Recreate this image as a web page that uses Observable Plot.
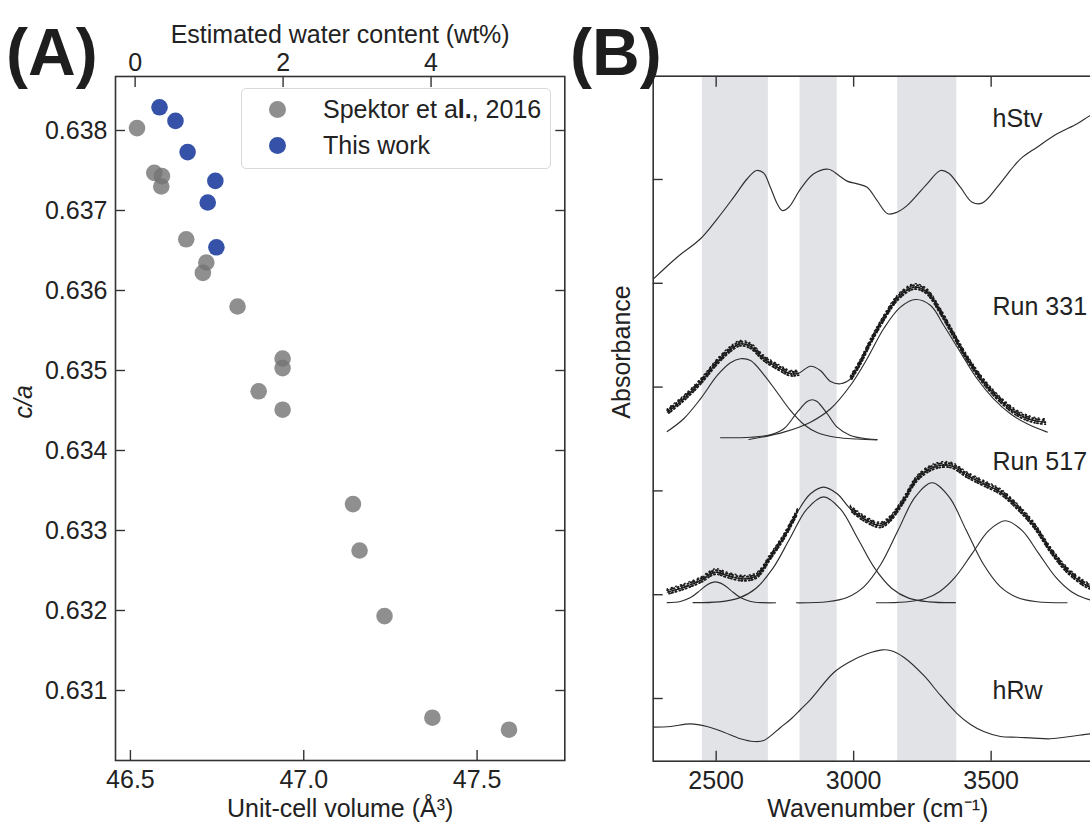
<!DOCTYPE html>
<html>
<head>
<meta charset="utf-8">
<script src="https://cdn.jsdelivr.net/npm/d3@7"></script>
<script src="https://cdn.jsdelivr.net/npm/@observablehq/plot@0.6"></script>
<style>
  html, body { margin: 0; padding: 0; background: #fff; width: 1090px; height: 830px; overflow: hidden; }
  #wrap { position: relative; width: 1090px; height: 830px; overflow: hidden;
          font-family: "Liberation Sans", Arial, Helvetica, sans-serif; color: #222; }
  #panelA, #panelB { position: absolute; top: 0; }
  #panelA { left: 0; width: 580px; height: 830px; }
  #panelB { left: 560px; width: 552px; height: 830px; }
  #panelA svg, #panelB svg { max-width: none !important; display: block; }
  .tag { position: absolute; font-weight: bold; font-size: 66px; line-height: 66px; color: #1e1e1e; }
  #legend { position: absolute; left: 241px; top: 88px; width: 308px; height: 79px;
            border: 1px solid #d9d9d9; border-radius: 5px; background: #fff; font-size: 25px; }
  #legend .mk { position: absolute; width: 17px; height: 17px; border-radius: 50%; }
  #legend .lb { position: absolute; left: 81px; height: 30px; line-height: 30px; white-space: nowrap; color: #222; }
</style>
</head>
<body>
<div id="wrap">
  <div id="panelA"></div>
  <div id="panelB"></div>
  <div class="tag" style="left:6px; top:19px;">(A)</div>
  <div class="tag" style="left:570px; top:19px;">(B)</div>
  <div id="legend"></div>
</div>
<script>
// ---------------- Panel A data ----------------
const spektorVol = [46.519, 46.569, 46.591, 46.589, 46.661, 46.719, 46.709, 46.809, 46.939, 46.939, 46.870, 46.939, 47.142, 47.161, 47.233, 47.371, 47.592];
const spektorCa  = [0.63803, 0.63747, 0.63743, 0.63730, 0.63664, 0.63635, 0.63622, 0.63580, 0.63515, 0.63503, 0.63474, 0.63451, 0.63333, 0.63275, 0.63193, 0.63066, 0.63051];
const thisVol = [46.584, 46.630, 46.665, 46.745, 46.723, 46.748];
const thisCa  = [0.63829, 0.63812, 0.63773, 0.63737, 0.63710, 0.63654];
const seriesNames = ["Spektor et al., 2016", "This work"];
const volTicks = [46.5, 47.0, 47.5];
const caTicks = [0.631, 0.632, 0.633, 0.634, 0.635, 0.636, 0.637, 0.638];
const waterTicks = [0, 2, 4];
// calibration of top axis: unit-cell volume at 0 wt% and volume increase per wt%
const waterZeroVol = 46.5136;
const volPerWt = 0.2134;

// ---------------- Panel B data (wavenumber cm^-1, offset absorbance) ----------------
const wnTicks = [2500, 3000, 3500];
const absTicks = [0, 1, 2, 3, 4, 5];
const bands = [[2450, 2690], [2805, 2940], [3160, 3375]];

const hStv = [[2271,4.040],[2358,4.251],[2443,4.429],[2504,4.621],[2564,4.830],[2613,5.007],[2647,5.087],[2673,5.061],[2697,4.926],[2722,4.766],[2740,4.701],[2764,4.733],[2807,4.910],[2855,5.055],[2909,5.099],[2946,5.039],[2976,4.984],[3013,4.958],[3049,4.926],[3085,4.798],[3124,4.670],[3158,4.685],[3195,4.750],[3267,4.958],[3316,5.087],[3346,5.061],[3388,4.926],[3431,4.781],[3467,4.772],[3522,4.926],[3570,5.087],[3607,5.199],[3667,5.311],[3740,5.440],[3813,5.537],[3861,5.617],[3905,5.670]];

const run331Fit = [[2322,2.758],[2382,2.887],[2443,3.047],[2504,3.240],[2552,3.362],[2588,3.417],[2625,3.391],[2673,3.273],[2722,3.192],[2770,3.128],[2800,3.134],[2843,3.201],[2879,3.160],[2916,3.054],[2952,3.032],[2989,3.080],[3025,3.240],[3061,3.433],[3109,3.658],[3158,3.851],[3207,3.953],[3231,3.962],[3267,3.914],[3316,3.722],[3364,3.497],[3413,3.273],[3473,3.047],[3534,2.871],[3595,2.743],[3655,2.678],[3697,2.662]];
const run331Measured = [[2322, 2800], [2989, 3697]];
const run331G1 = [[2322,2.572],[2382,2.695],[2443,2.887],[2504,3.112],[2552,3.234],[2588,3.273],[2625,3.256],[2673,3.121],[2722,2.948],[2770,2.775],[2819,2.640],[2867,2.563],[2940,2.514],[3013,2.500],[3085,2.492]];
const run331G2 = [[2516,2.512],[2625,2.517],[2697,2.540],[2746,2.598],[2795,2.758],[2831,2.861],[2849,2.878],[2867,2.861],[2904,2.743],[2940,2.614],[2988,2.534],[3049,2.502],[3085,2.495]];
const run331G3 = [[2619,2.495],[2746,2.566],[2843,2.662],[2916,2.791],[2988,3.015],[3049,3.273],[3109,3.562],[3170,3.770],[3225,3.844],[3280,3.786],[3328,3.593],[3388,3.336],[3449,3.080],[3509,2.887],[3570,2.743],[3631,2.646],[3704,2.566]];

const run517Fit = [[2322,1.024],[2382,1.072],[2443,1.137],[2497,1.217],[2540,1.185],[2600,1.153],[2649,1.185],[2697,1.361],[2746,1.554],[2795,1.795],[2843,1.972],[2891,2.036],[2940,1.972],[2988,1.828],[3037,1.731],[3097,1.667],[3134,1.731],[3182,1.908],[3231,2.117],[3291,2.228],[3352,2.245],[3413,2.148],[3473,2.068],[3534,1.987],[3595,1.843],[3655,1.667],[3716,1.426],[3776,1.233],[3837,1.105],[3861,1.072],[3905,1.020]];
const run517Measured = [[2322, 2795], [2988, 3905]];
const run517G1 = [[2322,0.923],[2370,0.935],[2407,0.972],[2443,1.044],[2468,1.097],[2497,1.124],[2527,1.097],[2552,1.044],[2588,0.972],[2625,0.935],[2668,0.923],[2716,0.922]];
const run517G2 = [[2416,0.923],[2509,0.931],[2582,0.967],[2644,1.060],[2706,1.253],[2768,1.541],[2829,1.823],[2891,1.943],[2953,1.823],[3015,1.541],[3077,1.253],[3139,1.060],[3200,0.967],[3273,0.931],[3370,0.923]];
const run517G3 = [[2792,0.922],[2904,0.932],[2976,0.973],[3038,1.078],[3100,1.298],[3162,1.623],[3224,1.942],[3285,2.078],[3347,1.942],[3409,1.623],[3471,1.298],[3533,1.078],[3595,0.973],[3667,0.932],[3776,0.922]];
const run517G4 = [[3083,0.922],[3188,0.930],[3261,0.963],[3312,1.029],[3370,1.172],[3432,1.401],[3492,1.619],[3552,1.712],[3612,1.619],[3672,1.401],[3734,1.172],[3792,1.029],[3843,0.963],[3905,0.929]];

const hRw = [[2271,-0.276],[2334,-0.270],[2407,-0.244],[2467,-0.270],[2528,-0.325],[2588,-0.388],[2637,-0.414],[2673,-0.405],[2734,-0.279],[2770,-0.202],[2807,-0.106],[2843,-0.010],[2928,0.250],[2988,0.356],[3049,0.431],[3104,0.469],[3134,0.462],[3182,0.398],[3255,0.222],[3316,0.029],[3376,-0.145],[3425,-0.250],[3473,-0.318],[3534,-0.366],[3595,-0.373],[3655,-0.382],[3716,-0.388],[3788,-0.366],[3861,-0.340],[3905,-0.332]];

const specNames = ["hStv", "Run 331", "Run 517", "hRw"];
const specLabelWn = [3505, 3505, 3505, 3505];
const specLabelAbs = [5.585, 3.770, 2.277, 0.070];

// ---------------- build ----------------
const FONT = '"Liberation Sans", Arial, Helvetica, sans-serif';
const INK = "#2e2e2e";
const GRAY = "#737373";
const BLUE = "#3552a8";

const spektor = spektorVol.map((v, i) => ({v, ca: spektorCa[i]}));
const thisWork = thisVol.map((v, i) => ({v, ca: thisCa[i]}));
const w2v = w => waterZeroVol + w * volPerWt;
const v2w = v => Math.round((v - waterZeroVol) / volPerWt);

const plotA = Plot.plot({
  width: 580, height: 830,
  marginLeft: 115, marginRight: 15.7, marginTop: 76, marginBottom: 70,
  x: {domain: [46.457, 47.753]},
  y: {domain: [0.630125, 0.638675]},
  style: {fontFamily: FONT, fontSize: "25px", color: "#222", background: "transparent", overflow: "visible"},
  marks: [
    Plot.dot(spektor, {x: "v", y: "ca", r: 8.3, fill: GRAY, fillOpacity: 0.8}),
    Plot.dot(thisWork, {x: "v", y: "ca", r: 8.3, fill: BLUE}),
    Plot.frame({stroke: "#333", strokeWidth: 1.6}),
    Plot.axisX({anchor: "bottom", ticks: volTicks, tickFormat: d3.format(".1f"), tickSize: 0, tickPadding: 10, label: null}),
    Plot.axisX({anchor: "bottom", ticks: volTicks, tickSize: 10, dy: -10, fill: "none", stroke: "#333", strokeWidth: 1.4, label: null}),
    Plot.axisX({anchor: "top", ticks: waterTicks.map(w2v), tickFormat: v => String(v2w(v)), tickSize: 0, tickPadding: 6, label: null}),
    Plot.axisX({anchor: "top", ticks: waterTicks.map(w2v), tickSize: 10, dy: 10, fill: "none", stroke: "#333", strokeWidth: 1.4, label: null}),
    Plot.axisY({anchor: "left", ticks: caTicks, tickFormat: d3.format(".3f"), tickSize: 0, tickPadding: 8, label: null}),
    Plot.axisY({anchor: "left", ticks: caTicks, tickSize: 10, dx: 10, fill: "none", stroke: "#333", strokeWidth: 1.4, label: null}),
    Plot.axisY({anchor: "right", ticks: caTicks, tickSize: 10, dx: -10, fill: "none", stroke: "#333", strokeWidth: 1.4, label: null}),
    Plot.text(["Unit-cell volume (Å³)"], {frameAnchor: "bottom", dy: 56, fill: "#222"}),
    Plot.text(["Estimated water content (wt%)"], {frameAnchor: "top", dy: -51, fill: "#222"}),
    Plot.text(["c/a"], {frameAnchor: "left", dx: -92, rotate: -90, fontStyle: "italic", fill: "#222"})
  ]
});
document.getElementById("panelA").appendChild(plotA);

// legend
const legend = document.getElementById("legend");
[[GRAY, 0.8, seriesNames[0]], [BLUE, 1, seriesNames[1]]].forEach(([c, o, name], i) => {
  const cy = 20 + i * 36;
  const mk = document.createElement("div");
  mk.className = "mk";
  mk.style.left = (35 - 8.5) + "px";
  mk.style.top = (cy - 8.5) + "px";
  mk.style.background = c;
  mk.style.opacity = o;
  legend.appendChild(mk);
  const lb = document.createElement("div");
  lb.className = "lb";
  lb.style.top = (cy - 15) + "px";
  if (i === 0) lb.innerHTML = "Spektor et a<b>l.</b>, 2016"; else lb.textContent = name;
  legend.appendChild(lb);
});

const P = arr => arr.map(([wn, a]) => ({wn, a}));
const inRanges = (arr, ranges) => ranges.map(([lo, hi]) => P(arr.filter(([wn]) => wn >= lo && wn <= hi)));
const thin = {x: "wn", y: "a", curve: "catmull-rom", stroke: INK, strokeWidth: 1.15, clip: true};
// speckled rendering of the measured points (irregular dash patterns, slightly offset)
const speckles = [
  {strokeWidth: 1.9, strokeDasharray: "1.2,2.4,0.8,1.6,1.5,3.1", strokeDashoffset: 0, dy: -2.0},
  {strokeWidth: 1.9, strokeDasharray: "0.9,1.8,1.4,2.7,0.7,2.2", strokeDashoffset: 1.3, dy: 0},
  {strokeWidth: 1.9, strokeDasharray: "1.3,2.9,0.9,1.9,1.1,2.5", strokeDashoffset: 2.1, dy: 2.0},
  {strokeWidth: 1.4, strokeDasharray: "0.8,4.1,1.0,3.3", strokeDashoffset: 0.5, dy: -3.4}
];

const lineMarks = [hStv, run331Fit, run331G1, run331G2, run331G3, run517Fit, run517G1, run517G2, run517G3, run517G4, hRw]
  .map(s => Plot.line(P(s), thin));
const segs = [...inRanges(run331Fit, run331Measured), ...inRanges(run517Fit, run517Measured)];
const dotMarks = segs.flatMap(seg => speckles.map(sp => Plot.line(seg, {x: "wn", y: "a", curve: "catmull-rom", stroke: "#1a1a1a", clip: true, ...sp})));

const labels = specNames.map((name, i) => ({name, wn: specLabelWn[i], a: specLabelAbs[i]}));

const plotB = Plot.plot({
  width: 552, height: 830,
  marginLeft: 92.7, marginRight: 10, marginTop: 75.7, marginBottom: 69.3,
  x: {domain: [2271, 3905]},
  y: {domain: [-0.604, 5.995]},
  style: {fontFamily: FONT, fontSize: "25px", color: "#222", background: "transparent", overflow: "visible"},
  marks: [
    Plot.rect(bands, {x1: d => d[0], x2: d => d[1], fill: "#e2e3e6"}),
    ...lineMarks,
    ...dotMarks,
    Plot.frame({stroke: "#333", strokeWidth: 1.6}),
    Plot.axisX({anchor: "bottom", ticks: wnTicks, tickFormat: d3.format("d"), tickSize: 0, tickPadding: 10, label: null}),
    Plot.axisX({anchor: "bottom", ticks: wnTicks, tickSize: 10, dy: -10, fill: "none", stroke: "#333", strokeWidth: 1.4, label: null}),
    Plot.axisX({anchor: "top", ticks: wnTicks, tickSize: 10, dy: 10, fill: "none", stroke: "#333", strokeWidth: 1.4, label: null}),
    Plot.axisY({anchor: "left", ticks: absTicks, tickSize: 10, dx: 10, fill: "none", stroke: "#333", strokeWidth: 1.4, label: null}),
    Plot.text(labels, {x: "wn", y: "a", text: "name", textAnchor: "start", fill: "#222"}),
    Plot.text(["Wavenumber (cm⁻¹)"], {frameAnchor: "bottom", dy: 56, fill: "#222"}),
    Plot.text(["Absorbance"], {frameAnchor: "left", dx: -31, rotate: -90, fill: "#222"})
  ]
});
document.getElementById("panelB").appendChild(plotB);
</script>
</body>
</html>
